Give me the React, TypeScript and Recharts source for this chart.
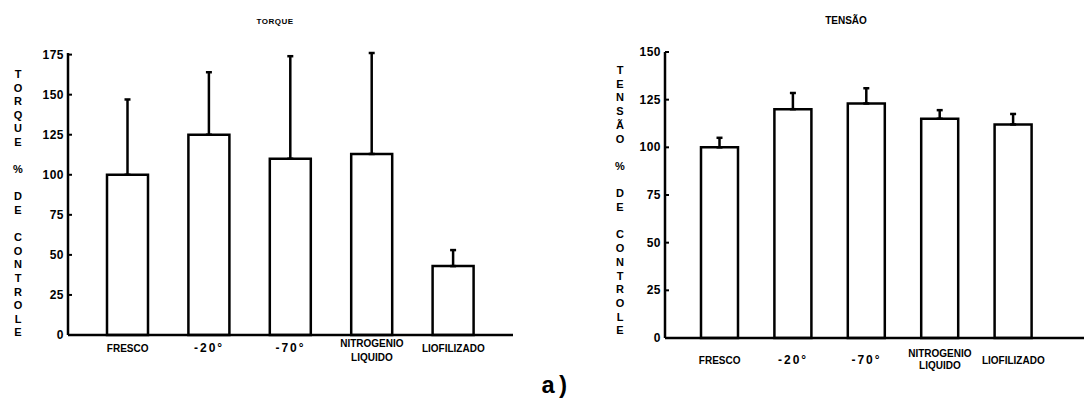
import React from "react";
import { BarChart, Bar, XAxis, YAxis, ErrorBar } from "recharts";

// group labels ("\n" splits a label onto two lines)
const categories = ["FRESCO", "-20°", "-70°", "NITROGENIO\nLIQUIDO", "LIOFILIZADO"];

// torque, % of control (bar value and upper error)
const torqueValues = [100, 125, 110, 113, 43];
const torqueErrors = [47, 39, 64, 63, 10];
const torqueTicks = [0, 25, 50, 75, 100, 125, 150, 175];

// tensão, % of control
const tensaoValues = [100, 120, 123, 115, 112];
const tensaoErrors = [5, 8.5, 8, 4.5, 5.5];
const tensaoTicks = [0, 25, 50, 75, 100, 125, 150];

const FONT = "'Liberation Sans', Arial, sans-serif";

const torqueData = categories.map((name, i) => ({
  name,
  value: torqueValues[i],
  err: [0, torqueErrors[i]],
}));

const tensaoData = categories.map((name, i) => ({
  name,
  value: tensaoValues[i],
  err: [0, tensaoErrors[i]],
}));

function YTick({ x, y, payload }: any) {
  return (
    <g>
      <text
        x={x}
        y={y}
        dy={4}
        textAnchor="end"
        fontSize={12}
        fontWeight="bold"
        fontFamily={FONT}
        letterSpacing={0.5}
        fill="#000"
      >
        {payload.value}
      </text>
      <line x1={x + 4} x2={x + 8} y1={y} y2={y} stroke="#000" strokeWidth={2} />
    </g>
  );
}

function makeXTick(firstLine: number, gap: number, single: number) {
  return function XTick({ x, y, payload }: any) {
    const lines = String(payload.value).split("\n");
    const isDeg = lines[0].includes("°");
    return (
      <g>
        {lines.map((line, i) => (
          <text
            key={i}
            x={x}
            y={y + (lines.length > 1 ? firstLine + i * gap : single)}
            textAnchor="middle"
            fontSize={isDeg ? 12 : 10}
            fontWeight="bold"
            letterSpacing={isDeg ? 2 : 0}
            fontFamily={FONT}
            fill="#000"
          >
            {line}
          </text>
        ))}
      </g>
    );
  };
}

function StackedLabel({ text, cx, top, step }: { text: string; cx: number; top: number; step: number }) {
  return (
    <g>
      {text.split("").map((ch, i) =>
        ch === " " ? null : (
          <text
            key={i}
            x={cx}
            y={top + i * step + 4}
            textAnchor="middle"
            fontSize={11}
            fontWeight="bold"
            fontFamily={FONT}
            fill="#000"
          >
            {ch}
          </text>
        )
      )}
    </g>
  );
}

const axisStyle = { stroke: "#000", strokeWidth: 2.5 };

export default function App() {
  return (
    <div style={{ position: "absolute", left: 0, top: 0, width: 1086, height: 404, background: "#fff" }}>
      <div style={{ position: "absolute", left: 0, top: 0 }}>
        <BarChart width={543} height={404} data={torqueData} margin={{ top: 53, right: 30, bottom: 20, left: 30 }}>
          <XAxis
            dataKey="name"
            height={49}
            padding={{ left: 19, right: 19 }}
            axisLine={axisStyle}
            tickLine={false}
            tickSize={0}
            tickMargin={0}
            interval={0}
            tick={makeXTick(12, 14, 17)}
          />
          <YAxis
            width={38}
            domain={[0, 175]}
            ticks={torqueTicks}
            axisLine={axisStyle}
            tickLine={false}
            tickSize={0}
            tickMargin={4}
            tick={<YTick />}
          />
          <Bar dataKey="value" fill="#fff" stroke="#000" strokeWidth={2.5} barSize={41} isAnimationActive={false}>
            <ErrorBar dataKey="err" width={3} stroke="#000" strokeWidth={2.5} />
          </Bar>
        </BarChart>
      </div>
      <div style={{ position: "absolute", left: 543, top: 0 }}>
        <BarChart width={543} height={404} data={tensaoData} margin={{ top: 52, right: 2, bottom: 20, left: 82 }}>
          <XAxis
            dataKey="name"
            height={46}
            padding={{ left: 18, right: 34 }}
            axisLine={axisStyle}
            tickLine={false}
            tickSize={0}
            tickMargin={0}
            interval={0}
            tick={makeXTick(19, 12, 26)}
          />
          <YAxis
            width={40}
            domain={[0, 150]}
            ticks={tensaoTicks}
            axisLine={axisStyle}
            tickLine={false}
            tickSize={0}
            tickMargin={4}
            tick={<YTick />}
          />
          <Bar dataKey="value" fill="#fff" stroke="#000" strokeWidth={2.5} barSize={37} isAnimationActive={false}>
            <ErrorBar dataKey="err" width={3} stroke="#000" strokeWidth={2.5} />
          </Bar>
        </BarChart>
      </div>
      <svg
        width={1086}
        height={404}
        style={{ position: "absolute", left: 0, top: 0, pointerEvents: "none" }}
      >
        <text x={275} y={24} textAnchor="middle" fontSize={8} fontWeight="bold" fontFamily={FONT} letterSpacing={0.5}>
          TORQUE
        </text>
        <text x={846} y={24} textAnchor="middle" fontSize={10} fontWeight="bold" fontFamily={FONT}>
          TENSÃO
        </text>
        <StackedLabel text="TORQUE % DE CONTROLE" cx={18} top={74} step={13.6} />
        <StackedLabel text="TENSÃO % DE CONTROLE" cx={620} top={70} step={13.7} />
        <text x={541} y={393} fontSize={24} fontWeight="bold" fontFamily="'Liberation Mono', 'Courier New', monospace">
          a)
        </text>
      </svg>
    </div>
  );
}
